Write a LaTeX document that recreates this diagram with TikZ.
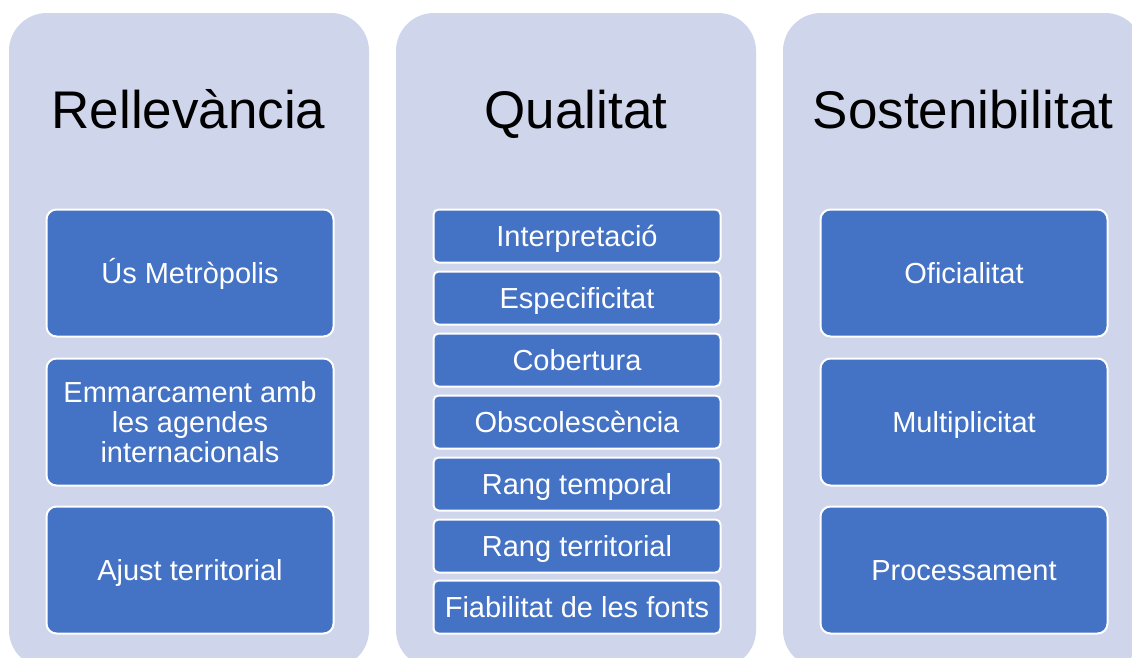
\documentclass[tikz,border=0pt]{standalone}
\usepackage{fontspec}
\setmainfont{Liberation Sans}
\definecolor{colbg}{RGB}{207,213,234}
\definecolor{boxblue}{RGB}{68,114,196}
\begin{document}
\begin{tikzpicture}[x=1pt,y=-1pt,
  colbox/.style={fill=colbg, draw=none, rounded corners=38pt, anchor=north west,
    minimum width=360pt, minimum height=655pt, inner sep=0pt, outer sep=0pt},
  coltitle/.style={anchor=base, inner sep=0pt, text=black,
    font=\fontsize{53}{60}\selectfont},
  bigbox/.style={fill=boxblue, draw=white, line width=2pt, rounded corners=10pt,
    anchor=north west, minimum width=287pt, minimum height=127pt, inner sep=0pt,
    align=center, text=white, font=\fontsize{29}{30}\selectfont},
  oneline/.style={text height=20.8pt, text depth=0pt},
  smallbox/.style={fill=boxblue, draw=white, line width=2pt, rounded corners=5pt,
    anchor=north west, minimum width=287pt, minimum height=53pt, inner sep=0pt,
    align=center, text=white, font=\fontsize{29}{30}\selectfont, oneline}]
\useasboundingbox (0,0) rectangle (1132,657);
\clip (0,0) rectangle (1132,657);
\fill[white] (0,0) rectangle (1132,657);
% columns
\node[colbox] (c1) at (9,13) {};
\node[colbox] (c2) at (396,13) {};
\node[colbox] (c3) at (783,13) {};
% titles
\node[coltitle] (t1) at (188.5,128) {Rellevància};
\node[coltitle] (t2) at (576,128) {Qualitat};
\node[coltitle] (t3) at (963,128) {Sostenibilitat};
% column 1
\node[bigbox, oneline] (r1) at (45.5,208.5) {Ús Metròpolis};
\node[bigbox] (r2) at (45.5,357.5) {Emmarcament amb\\les agendes\\internacionals};
\node[bigbox, oneline] (r3) at (45.5,505.5) {Ajust territorial};
% column 2
\node[smallbox] (q1) at (432.5,208.5) {Interpretació};
\node[smallbox] (q2) at (432.5,270.5) {Especificitat};
\node[smallbox] (q3) at (432.5,332.5) {Cobertura};
\node[smallbox] (q4) at (432.5,394.5) {Obscolescència};
\node[smallbox] (q5) at (432.5,456.5) {Rang temporal};
\node[smallbox] (q6) at (432.5,518.5) {Rang territorial};
\node[smallbox] (q7) at (432.5,579.5) {Fiabilitat de les fonts};
% column 3
\node[bigbox, oneline] (s1) at (819.5,208.5) {Oficialitat};
\node[bigbox, oneline] (s2) at (819.5,357.5) {Multiplicitat};
\node[bigbox, oneline] (s3) at (819.5,505.5) {Processament};
\end{tikzpicture}
\end{document}
